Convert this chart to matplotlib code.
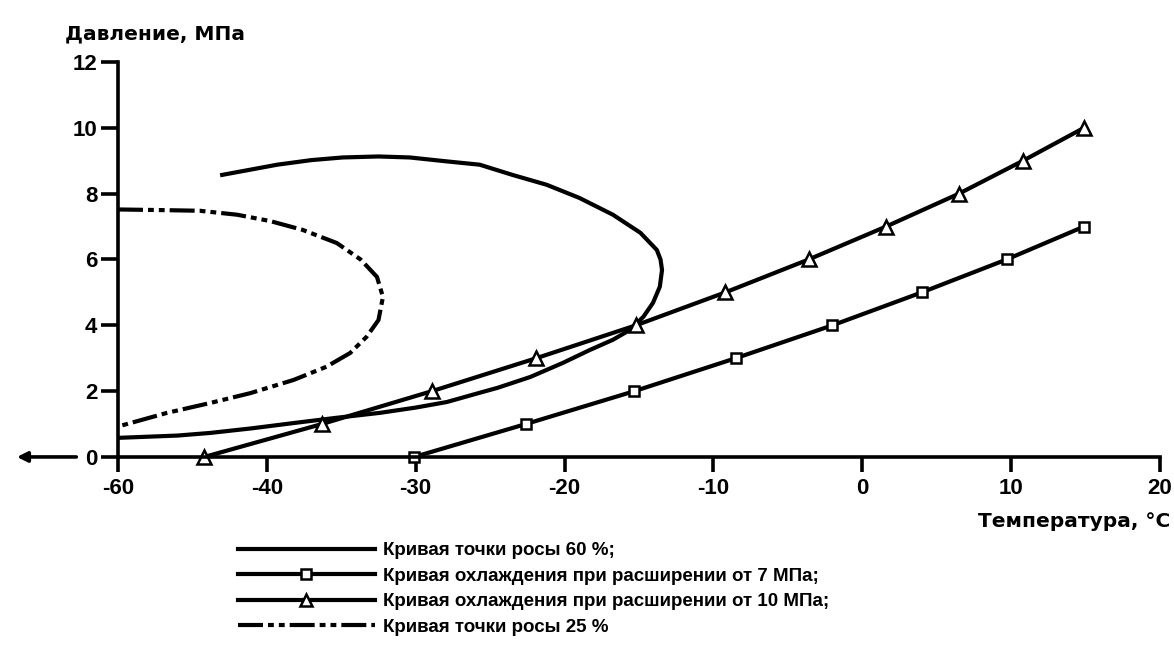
import matplotlib
matplotlib.use("Agg")
import matplotlib.pyplot as plt

plt.rcParams['font.family'] = ['Liberation Sans', 'DejaVu Sans']

# Cooling on expansion from 10 MPa (triangles)
t10_temp = [-44.2, -36.3, -28.9, -21.9, -15.2, -9.2, -3.6, 1.6, 6.5, 10.8, 14.9]
t10_pres = [0, 1, 2, 3, 4, 5, 6, 7, 8, 9, 10]

# Cooling on expansion from 7 MPa (squares)
t7_temp = [-30.1, -22.6, -15.3, -8.5, -2.0, 4.0, 9.7, 14.9]
t7_pres = [0, 1, 2, 3, 4, 5, 6, 7]

# Dew point curve 60 %
dp60_temp = [-50, -46, -43.8, -41, -38.2, -35.5, -32.4, -30, -27.9, -25.7,
             -24.5, -22.3, -20.1, -18.3, -16.75, -15.6, -14.7, -14.06, -13.6,
             -13.45, -13.55, -13.8, -14.9, -16.75, -19.0, -21.2, -23.5, -25.7,
             -27.9, -30.4, -32.5, -34.9, -37.0, -39.3, -43.0]
dp60_pres = [0.58, 0.65, 0.73, 0.87, 1.03, 1.18, 1.34, 1.5, 1.67, 1.95,
             2.10, 2.43, 2.86, 3.25, 3.56, 3.86, 4.26, 4.68, 5.17,
             5.68, 6.0, 6.29, 6.81, 7.36, 7.87, 8.27, 8.57, 8.88,
             8.98, 9.1, 9.13, 9.1, 9.02, 8.88, 8.57]

# Dew point curve 25 %
dp25_temp = [-50, -47, -44.5, -42.0, -39.8, -37.6, -35.3, -33.7, -32.6, -32.2,
             -32.5, -33.3, -34.4, -36.0, -38.2, -41.1, -43.8, -46.7, -49.8]
dp25_pres = [7.52, 7.5, 7.48, 7.36, 7.17, 6.9, 6.5, 6.0, 5.47, 4.86,
             4.16, 3.65, 3.16, 2.74, 2.34, 1.94, 1.64, 1.34, 0.95]

xtick_pos = [-50, -40, -30, -20, -10, 0, 10, 20]
xtick_labels = ["-60", "-40", "-30", "-20", "-10", "0", "10", "20"]
ytick_pos = [0, 2, 4, 6, 8, 10, 12]

labels = ["Кривая точки росы 60 %;",
          "Кривая охлаждения при расширении от 7 МПа;",
          "Кривая охлаждения при расширении от 10 МПа;",
          "Кривая точки росы 25 %"]

fig = plt.figure(figsize=(11.74, 6.5), dpi=100)
ax = fig.add_axes([0.1005, 0.297, 0.8875, 0.6076])

lw = 3.0
l60, = ax.plot(dp60_temp, dp60_pres, color='black', lw=lw,
               solid_joinstyle='round')
l7, = ax.plot(t7_temp, t7_pres, color='black', lw=lw, marker='s', ms=7.5,
              mfc='white', mec='black', mew=1.8, clip_on=False)
l10, = ax.plot(t10_temp, t10_pres, color='black', lw=lw, marker='^', ms=10,
               mfc='white', mec='black', mew=1.8, clip_on=False)
l25, = ax.plot(dp25_temp, dp25_pres, color='black', lw=lw,
               linestyle=(0, (6, 1.2, 1.4, 1.2, 1.4, 1.2)))

ax.set_xlim(-50, 20)
ax.set_ylim(0, 12)
ax.set_xticks(xtick_pos)
ax.set_xticklabels(xtick_labels)
ax.set_yticks(ytick_pos)

for s in ['top', 'right']:
    ax.spines[s].set_visible(False)
for s in ['left', 'bottom']:
    ax.spines[s].set_linewidth(2.6)
ax.tick_params(axis='y', direction='out', length=12, width=2.6, pad=3,
               labelsize=16)
ax.tick_params(axis='x', direction='out', length=11, width=2.6, pad=4,
               labelsize=16)
for t in ax.get_xticklabels() + ax.get_yticklabels():
    t.set_fontweight('bold')

# arrow to the left of the y-axis at zero
ax.annotate('', xy=(-0.097, 0), xycoords=('axes fraction', 'data'),
            xytext=(-0.040, 0), textcoords=('axes fraction', 'data'),
            arrowprops=dict(arrowstyle='-|>', lw=2.6, color='black',
                            mutation_scale=15, shrinkA=0, shrinkB=0),
            annotation_clip=False)

fig.text(0.055, 0.948, "Давление, МПа", fontsize=14.5, fontweight='bold',
         family=['DejaVu Sans'], ha='left', va='center')
fig.text(0.997, 0.198, "Температура, °C", fontsize=14.5, fontweight='bold',
         family=['DejaVu Sans'], ha='right', va='center')

leg = fig.legend([l60, l7, l10, l25], labels, loc='upper left',
                 bbox_to_anchor=(0.2027, 0.166), frameon=False,
                 handlelength=7.3, handletextpad=0.43,
                 labelspacing=0.45, borderaxespad=0, borderpad=0,
                 prop={'weight': 'bold', 'size': 13.5}, markerscale=0.9)

fig.savefig('out.png', dpi=100)
